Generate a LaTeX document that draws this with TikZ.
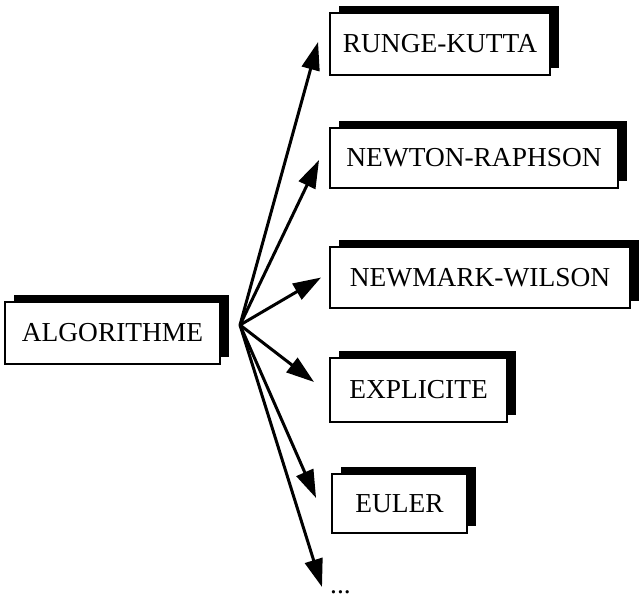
\documentclass[tikz,border=0pt]{standalone}
\usepackage{fontspec}
\setmainfont{Liberation Serif}
\usetikzlibrary{arrows.meta,shadows}
\begin{document}
\begin{tikzpicture}[x=1bp,y=-1bp,
  label font/.style={font=\fontsize{27.5}{32}\selectfont},
  box/.style={draw=black, line width=1.9bp, fill=white, inner sep=0pt, label font,
    general shadow={fill=black, shadow xshift=9bp, shadow yshift=7bp}},
  link/.style={line width=3bp, -{Triangle[length=28bp,width=18bp]}}
]
\useasboundingbox (0,0) rectangle (639,600);

% method boxes
\node[box, minimum width=215bp, minimum height=62bp] (alg) at (112.5,333) {ALGORITHME};
\node[box, minimum width=220bp, minimum height=62bp] (rk)  at (440,44) {RUNGE-KUTTA};
\node[box, minimum width=288bp, minimum height=60bp] (nr)  at (474,158) {NEWTON-RAPHSON};
\node[box, minimum width=300bp, minimum height=61bp] (nw)  at (480,277.5) {NEWMARK-WILSON};
\node[box, minimum width=177bp, minimum height=64bp] (ex)  at (418.5,390) {EXPLICITE};
\node[box, minimum width=135bp, minimum height=59bp] (eu)  at (399.5,503.5) {EULER};
\node[label font, anchor=base west, inner sep=0pt] (more) at (330,593) {...};

% arrows fanning out
\coordinate (hub) at (240,325);
\draw[link] (hub) -- ([xshift=-11bp,yshift=2bp]rk.west);
\draw[link] (hub) -- ([xshift=-10bp,yshift=-2bp]nr.west);
\draw[link] (hub) -- ([xshift=-8bp]nw.west);
\draw[link] (hub) -- ([xshift=-15bp,yshift=8bp]ex.west);
\draw[link] (hub) -- ([xshift=-15bp,yshift=5.5bp]eu.west);
\draw[link] (hub) -- ([xshift=-8bp,yshift=6bp]more.base west);
\end{tikzpicture}
\end{document}
